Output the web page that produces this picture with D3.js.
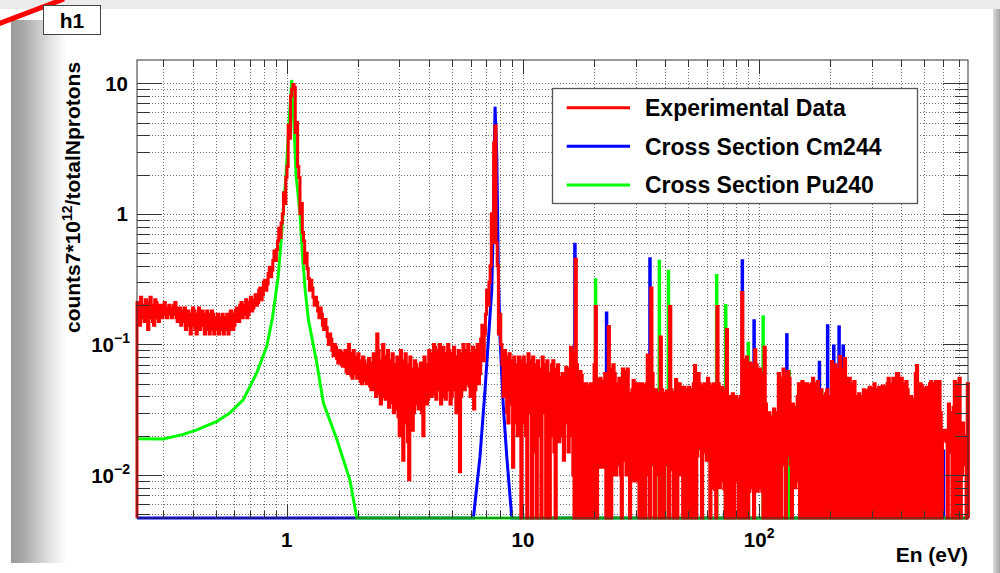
<!DOCTYPE html>
<html>
<head>
<meta charset="utf-8">
<script src="https://cdn.jsdelivr.net/npm/d3@7"></script>
<style>
  body { margin: 0; background: #fff; }
  svg { display: block; }
  text { font-family: "Liberation Sans", Arial, Helvetica, sans-serif; font-weight: bold; fill: #000; }
</style>
</head>
<body>
<div id="vis"></div>
<script>
// axis ranges of the frame
var xMin = 0.2323, xMax = 766;
var yMin = 0.00469, yMax = 15.07;

// experimental data, log bins (100 per decade from xMin):
// upper and lower edge of the noisy band inside each bin
var binsPerDecade = 100;
var redHigh = [
  0.21,0.23,0.2,0.22,0.21,0.23,0.2,0.22,0.21,0.2,
  0.2,0.21,0.19,0.2,0.19,0.2,0.21,0.19,0.19,0.18,
  0.19,0.18,0.17,0.19,0.18,0.17,0.19,0.18,0.17,0.18,
  0.17,0.18,0.17,0.16,0.17,0.16,0.17,0.16,0.17,0.18,
  0.17,0.18,0.19,0.2,0.21,0.2,0.22,0.21,0.23,0.22,
  0.24,0.26,0.27,0.3,0.31,0.35,0.39,0.44,0.52,0.62,
  0.78,1.0,1.45,2.3,4.8,9.0,9.8,5.0,2.3,1.2,
  0.72,0.5,0.38,0.31,0.27,0.23,0.21,0.19,0.17,0.155,
  0.135,0.12,0.11,0.1,0.095,0.09,0.088,0.085,0.09,0.1,
  0.085,0.09,0.08,0.085,0.075,0.08,0.075,0.07,0.078,0.072,
  0.085,0.12,0.09,0.075,0.1,0.08,0.09,0.075,0.085,0.07,
  0.08,0.09,0.075,0.085,0.07,0.08,0.065,0.075,0.07,0.065,
  0.072,0.08,0.07,0.09,0.085,0.1,0.095,0.09,0.1,0.095,
  0.085,0.1,0.09,0.085,0.095,0.08,0.09,0.085,0.1,0.09,
  0.1,0.085,0.095,0.09,0.1,0.11,0.14,0.17,0.26,0.4,
  1.0,4.7,0.6,0.17,0.1,0.09,0.08,0.085,0.075,0.08,
  0.07,0.08,0.075,0.08,0.07,0.085,0.075,0.08,0.07,0.075,
  0.065,0.08,0.07,0.075,0.06,0.07,0.075,0.065,0.07,0.056,
  0.06,0.067,0.065,0.095,0.09,0.45,0.07,0.062,0.058,0.05,
  0.05,0.048,0.05,0.07,0.195,0.054,0.055,0.052,0.06,0.137,
  0.065,0.07,0.06,0.05,0.055,0.065,0.062,0.065,0.042,0.045,
  0.053,0.05,0.05,0.05,0.048,0.05,0.083,0.27,0.06,0.045,
  0.042,0.114,0.045,0.042,0.044,0.195,0.045,0.043,0.054,0.05,
  0.047,0.047,0.045,0.047,0.045,0.05,0.069,0.06,0.05,0.048,
  0.05,0.055,0.05,0.048,0.05,0.195,0.05,0.047,0.045,0.13,
  0.04,0.04,0.042,0.04,0.038,0.04,0.25,0.076,0.08,0.072,
  0.07,0.091,0.07,0.065,0.06,0.095,0.035,0.03,0.028,0.032,
  0.03,0.06,0.055,0.065,0.06,0.062,0.055,0.035,0.033,0.04,
  0.05,0.052,0.05,0.05,0.048,0.05,0.055,0.05,0.052,0.045,
  0.04,0.042,0.045,0.04,0.074,0.07,0.065,0.081,0.065,0.078,
  0.055,0.055,0.05,0.052,0.04,0.042,0.04,0.045,0.044,0.045,
  0.047,0.046,0.05,0.045,0.047,0.048,0.047,0.05,0.055,0.05,
  0.055,0.06,0.06,0.055,0.05,0.052,0.045,0.04,0.038,0.06,
  0.069,0.05,0.048,0.045,0.047,0.05,0.052,0.05,0.052,0.052,
  0.03,0.022,0.022,0.035,0.03,0.033,0.052,0.05,0.055,0.025,
  0.02,0.05
];
var redLow = [
  0.15,0.14,0.16,0.15,0.13,0.16,0.15,0.14,0.16,0.15,
  0.16,0.17,0.16,0.17,0.16,0.17,0.16,0.15,0.14,0.15,
  0.13,0.14,0.12,0.14,0.13,0.12,0.13,0.14,0.12,0.13,
  0.12,0.13,0.12,0.13,0.12,0.13,0.12,0.13,0.12,0.13,
  0.13,0.14,0.15,0.15,0.16,0.17,0.16,0.17,0.18,0.19,
  0.2,0.21,0.22,0.24,0.26,0.29,0.33,0.37,0.44,0.53,
  0.66,0.85,1.2,1.9,3.8,8.0,9.3,4.2,1.9,1.0,
  0.62,0.42,0.32,0.26,0.23,0.2,0.18,0.16,0.14,0.13,
  0.115,0.1,0.09,0.082,0.078,0.072,0.07,0.068,0.062,0.06,
  0.058,0.055,0.06,0.055,0.052,0.05,0.053,0.05,0.048,0.045,
  0.045,0.04,0.042,0.035,0.04,0.038,0.033,0.036,0.03,0.032,
  0.028,0.02,0.013,0.025,0.018,0.0092,0.022,0.03,0.035,0.032,
  0.03,0.02,0.035,0.038,0.04,0.042,0.038,0.045,0.035,0.04,
  0.038,0.045,0.035,0.04,0.045,0.03,0.0106,0.04,0.045,0.05,
  0.048,0.04,0.032,0.045,0.05,0.06,0.075,0.12,0.2,0.3,
  0.6,3.5,0.4,0.12,0.07,0.04,0.03,0.025,0.035,0.0115,
  0.025,0.02,0,0.025,0.02,0,0.03,0,0.015,0,
  0.02,0,0.03,0,0,0.02,0.015,0,0.018,0.02,
  0.013,0.025,0.015,0.02,0.01,0,0,0,0,0,
  0,0,0,0,0,0.0115,0.0115,0.0115,0,0,
  0,0.01,0.01,0.012,0.01,0,0.013,0.01,0,0.009,
  0.009,0.009,0,0,0,0,0.01,0,0.012,0,
  0.01,0,0,0,0.012,0,0.011,0,0,0.01,
  0.01,0,0,0,0,0,0,0.014,0.016,0,
  0.015,0.013,0,0.008,0.0078,0,0.008,0.009,0.0078,0,
  0,0,0,0.009,0,0,0,0,0,0.0075,
  0.008,0,0.0075,0.008,0.0075,0,0,0,0,0,
  0,0,0,0.012,0,0.014,0.012,0,0.008,0.009,
  0,0,0,0,0,0,0,0,0,0,
  0,0,0,0,0,0,0,0,0,0,
  0,0,0,0,0,0,0,0,0,0,
  0,0,0,0,0,0,0,0,0,0,
  0,0,0,0,0,0,0,0,0,0,
  0,0,0,0,0,0,0,0,0,0,
  0,0.0186,0.018,0,0.015,0,0,0,0,0.01,
  0.012,0
];

// cross section Pu240 (graph points, eV)
var pu240E = [0.2323,0.30,0.365,0.416,0.506,0.575,0.655,0.746,0.823,0.87,0.92,0.945,0.965,0.993,1.02,1.05,
              1.074,1.095,1.138,1.169,1.2,1.235,1.34,1.43,1.63,1.85,1.98,766];
var pu240V = [0.019,0.0189,0.0205,0.0222,0.0258,0.0299,0.0378,0.0604,0.0966,0.16,0.33,0.6,1.0,1.99,4.65,10.6,
              4.65,1.99,1.0,0.445,0.25,0.155,0.072,0.0356,0.0187,0.0092,0,0];
var pu240Spikes = [[20.3,0.322],[37.8,0.445],[41.3,0.373],[66.1,0.347],[72.2,0.204],[90,0.105],
                   [104,0.167],[134,0.064],[184,0.045],[284,0.042]];

// cross section Cm244
var cm244E = [0.2323,6.17,6.58,6.91,7.14,7.38,7.49,7.55,7.62,7.75,7.87,8.0,8.26,8.54,8.97,766];
var cm244V = [0,0,0.0139,0.045,0.109,0.262,0.85,2.74,6.62,2.74,0.352,0.109,0.0336,0.0139,0,0];
var cm244Spikes = [[16.6,0.6],[22.6,0.179],[34.5,0.466],[84.9,0.45],[95.2,0.156],[131,0.122],[180,0.075],
                   [195,0.143],[207,0.1],[218,0.14],[227,0.1],[415,0.051],[603,0.0157]];

var xMajor = [1, 10, 100];
var xMajorLabels = [["1", ""], ["10", ""], ["10", "2"]];
var yMajor = [0.01, 0.1, 1, 10];
var yMajorLabels = [["10", "\u22122"], ["10", "\u22121"], ["1", ""], ["10", ""]];

var legendNames = ["Experimental Data", "Cross Section Cm244", "Cross Section Pu240"];
var legendColors = ["#ff0000", "#0000ff", "#00ff00"];

function draw() {
  var W = 1000, H = 573;
  var L = 137, R = 968, T = 60, B = 518;

  var svg = d3.select("#vis").append("svg")
              .attr("width", W)
              .attr("height", H);

  // canvas shading
  var defs = svg.append("defs");
  var lg = defs.append("linearGradient").attr("id", "lshade");
  [["0", "#9a9a9a"], ["0.2", "#a6a6a6"], ["0.45", "#c4c4c4"], ["0.7", "#e2e2e2"], ["1", "#ffffff"]]
    .forEach(function(s) { lg.append("stop").attr("offset", s[0]).attr("stop-color", s[1]); });
  var rg = defs.append("linearGradient").attr("id", "rshade");
  [["0", "#dadada"], ["1", "#a4a4a4"]]
    .forEach(function(s) { rg.append("stop").attr("offset", s[0]).attr("stop-color", s[1]); });
  defs.append("clipPath").attr("id", "plotclip")
      .append("rect").attr("x", L - 3).attr("y", T).attr("width", R - L + 6).attr("height", B - T + 3);

  svg.append("rect").attr("x", 0).attr("y", 0).attr("width", W).attr("height", 9).attr("fill", "#ebebeb");
  svg.append("rect").attr("x", 11).attr("y", 20).attr("width", 56).attr("height", 543).attr("fill", "url(#lshade)");
  svg.append("rect").attr("x", 993).attr("y", 9).attr("width", 7).attr("height", H - 9).attr("fill", "url(#rshade)");
  svg.append("line").attr("x1", -2).attr("y1", 24).attr("x2", 64).attr("y2", -1)
     .attr("stroke", "#ff0000").attr("stroke-width", 5);

  var x = d3.scaleLog().domain([xMin, xMax]).range([L, R]);
  var y = d3.scaleLog().domain([yMin, yMax]).range([B, T]);
  function yv(v) { return v > yMin ? y(v) : B; }
  function isMajor(v) { var l = Math.log10(v); return Math.abs(l - Math.round(l)) < 1e-6; }

  var xt = x.ticks().filter(function(d) { return d >= xMin && d <= xMax; });
  var yt = y.ticks().filter(function(d) { return d >= yMin && d <= yMax; });

  // plot background
  svg.append("rect").attr("x", L).attr("y", T).attr("width", R - L).attr("height", B - T).attr("fill", "#fff");

  // grid
  var grid = svg.append("g").attr("stroke", "#6e6e6e").attr("stroke-width", 1).attr("stroke-dasharray", "1,2");
  grid.selectAll(".gx").data(xt).enter().append("line")
      .attr("x1", function(d) { return Math.round(x(d)) + 0.5; })
      .attr("x2", function(d) { return Math.round(x(d)) + 0.5; })
      .attr("y1", T).attr("y2", B);
  grid.selectAll(".gy").data(yt).enter().append("line")
      .attr("y1", function(d) { return Math.round(y(d)) + 0.5; })
      .attr("y2", function(d) { return Math.round(y(d)) + 0.5; })
      .attr("x1", L).attr("x2", R);

  var plot = svg.append("g").attr("clip-path", "url(#plotclip)");

  // Cm244
  var line = d3.line()
               .x(function(d) { return x(d[0]); })
               .y(function(d) { return yv(d[1]); });
  plot.append("path")
      .attr("d", line(cm244E.map(function(e, i) { return [e, cm244V[i]]; })))
      .attr("fill", "none").attr("stroke", "#0000ff").attr("stroke-width", 3);
  plot.selectAll(".cms").data(cm244Spikes).enter().append("line")
      .attr("x1", function(d) { return x(d[0]); }).attr("x2", function(d) { return x(d[0]); })
      .attr("y1", B).attr("y2", function(d) { return yv(d[1]); })
      .attr("stroke", "#0000ff").attr("stroke-width", 3.5);

  // frame
  svg.append("rect").attr("x", L).attr("y", T).attr("width", R - L).attr("height", B - T)
     .attr("fill", "none").attr("stroke", "#333").attr("stroke-width", 1);

  // ticks
  var ticks = svg.append("g").attr("stroke", "#333").attr("stroke-width", 1);
  yt.forEach(function(d) {
    var yy = Math.round(y(d)) + 0.5, len = isMajor(d) ? 25 : 13;
    ticks.append("line").attr("x1", L).attr("x2", L + len).attr("y1", yy).attr("y2", yy);
    ticks.append("line").attr("x1", R - len).attr("x2", R).attr("y1", yy).attr("y2", yy);
  });
  xt.forEach(function(d) {
    var xx = Math.round(x(d)) + 0.5, len = isMajor(d) ? 14 : 7;
    ticks.append("line").attr("x1", xx).attr("x2", xx).attr("y1", B).attr("y2", B - len);
    ticks.append("line").attr("x1", xx).attr("x2", xx).attr("y1", T).attr("y2", T + len);
  });

  // Pu240
  plot.append("path")
      .attr("d", line(pu240E.map(function(e, i) { return [e, pu240V[i]]; })))
      .attr("fill", "none").attr("stroke", "#00ff00").attr("stroke-width", 3);
  plot.selectAll(".pus").data(pu240Spikes).enter().append("line")
      .attr("x1", function(d) { return x(d[0]); }).attr("x2", function(d) { return x(d[0]); })
      .attr("y1", B).attr("y2", function(d) { return yv(d[1]); })
      .attr("stroke", "#00ff00").attr("stroke-width", 3.5);

  // experimental data: each bin drawn as two half steps (upper / lower edge)
  var lo = Math.log10(xMin);
  function edge(i) { return Math.pow(10, lo + i / binsPerDecade); }
  var p = d3.path();
  p.moveTo(x(edge(0)), B);
  redHigh.forEach(function(v, i) {
    var a = yv(v), b = yv(redLow[i]);
    var first = i % 2 ? b : a, second = i % 2 ? a : b;
    p.lineTo(x(edge(i)), first);
    p.lineTo(x(edge(i + 0.5)), first);
    p.lineTo(x(edge(i + 0.5)), second);
    p.lineTo(x(edge(i + 1)), second);
  });
  p.lineTo(x(edge(redHigh.length)), B);
  plot.append("path").attr("d", p.toString())
      .attr("fill", "none").attr("stroke", "#ff0000").attr("stroke-width", 3);

  // tick labels
  xMajor.forEach(function(d, i) {
    var t = svg.append("text").attr("x", x(d)).attr("y", 547)
               .attr("text-anchor", "middle").attr("font-size", 20.5);
    t.append("tspan").text(xMajorLabels[i][0]);
    if (xMajorLabels[i][1]) t.append("tspan").attr("dy", -9).attr("font-size", 14).text(xMajorLabels[i][1]);
  });
  yMajor.forEach(function(d, i) {
    var sup = yMajorLabels[i][1];
    var t = svg.append("text").attr("x", sup ? 130 : 128).attr("y", y(d) + 7.5)
               .attr("text-anchor", "end").attr("font-size", 20.5);
    t.append("tspan").text(yMajorLabels[i][0]);
    if (sup) t.append("tspan").attr("dy", -9).attr("font-size", 14).text(sup);
  });

  // axis titles
  svg.append("text").attr("x", R).attr("y", 562).attr("text-anchor", "end")
     .attr("font-size", 21).text("En (eV)");
  var yl = svg.append("text").attr("transform", "translate(80,197.5) rotate(-90)")
              .attr("text-anchor", "middle").attr("font-size", 21);
  yl.append("tspan").text("counts7*10");
  yl.append("tspan").attr("dy", -8).attr("font-size", 14).text("12");
  yl.append("tspan").attr("dy", 8).text("/totalNprotons");

  // title box
  svg.append("rect").attr("x", 43.5).attr("y", 5.5).attr("width", 57).attr("height", 29)
     .attr("fill", "#fff").attr("stroke", "#444").attr("stroke-width", 1);
  svg.append("text").attr("x", 72).attr("y", 28).attr("text-anchor", "middle")
     .attr("font-size", 21).text("h1");

  // legend
  var leg = svg.append("g");
  leg.append("rect").attr("x", 552.5).attr("y", 88.5).attr("width", 365).attr("height", 115)
     .attr("fill", "#fff").attr("stroke", "#555").attr("stroke-width", 1.3);
  legendNames.forEach(function(name, i) {
    var ly = 107.7 + i * 38.6;
    leg.append("line").attr("x1", 566.7).attr("x2", 630).attr("y1", ly).attr("y2", ly)
       .attr("stroke", legendColors[i]).attr("stroke-width", 3);
    leg.append("text").attr("x", 645).attr("y", ly + 8.3).attr("font-size", 23).text(name);
  });
}

draw();
</script>
</body>
</html>
